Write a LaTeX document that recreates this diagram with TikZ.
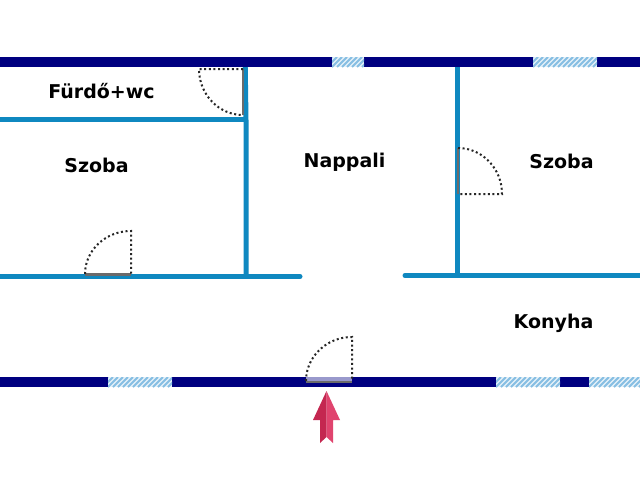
\documentclass[tikz,border=0pt]{standalone}
\usepackage{fontspec}
\setmainfont{DejaVu Sans}
\definecolor{navywall}{HTML}{000080}
\definecolor{bluewall}{HTML}{0F88C0}
\definecolor{hatchbg}{HTML}{E4F1F8}
\definecolor{hatchln}{HTML}{86BEE3}
\definecolor{doorln}{HTML}{6B6B6B}
\newcommand{\winhatch}[2]{%
  \begin{scope}
    \fill[hatchbg] (#1,57) rectangle (#2,67);
    \clip (#1,57) rectangle (#2,67);
    \pgfmathsetmacro{\xb}{#1-10}
    \pgfmathsetmacro{\xc}{#1-5}
    \foreach \q in {\xb,\xc,...,#2}{\draw[hatchln,line width=1.9pt] (\q,67) -- (\q+10,57);}
  \end{scope}}
\tikzset{
  x=1pt,y=-1pt,
  wall/.style={bluewall,line width=5pt},
  wallr/.style={bluewall,line width=5pt,line cap=round},
  outer/.style={fill=navywall},
  leaf/.style={doorln,line width=2.2pt},
  swing/.style={black!85,line width=2pt,dash pattern=on 2pt off 2.6pt},
  room/.style={font=\bfseries\fontsize{19}{22}\selectfont,text=black,inner sep=0pt}
}
\begin{document}
\begin{tikzpicture}
\useasboundingbox (0,0) rectangle (640,480);
\fill[white] (0,0) rectangle (640,480);
% inner walls
\draw[wall] (245.2,64) -- (246,120) -- (246,276);
\draw[wall] (0,119.5) -- (246,119.5);
\draw[wallr] (0,276.5) -- (300,276.5);
\draw[wall] (457,64) -- (457,276);
\draw[wallr] (405,275.5) -- (640,275.5);
% outer walls
\fill[outer] (0,57) rectangle (640,67);
\fill[outer] (0,377) rectangle (640,387);
% windows
\winhatch{332}{364}
\winhatch{533}{597}
\begin{scope}[yshift=-320pt]
\winhatch{108}{172}
\winhatch{496}{560}
\winhatch{589}{640}
\end{scope}
% doors
\draw[leaf] (243,69) -- (243,115);
\draw[swing] (243,69) -- (199,69) arc[start angle=180,end angle=270,x radius=44,y radius=-46];
\draw[leaf] (85,274.5) -- (131,274.5);
\draw[swing] (85,274) arc[start angle=180,end angle=90,x radius=46,y radius=-43] -- (131,274);
\draw[leaf] (458,148) -- (458,194);
\draw[swing] (458,148) arc[start angle=90,end angle=0,x radius=44,y radius=-46] -- (458,194);
\fill[fill=lightgray!80!blue] (306,377) rectangle (352,381.5);
\draw[leaf] (306,382) -- (352,382);
\draw[swing] (306,381) arc[start angle=180,end angle=90,x radius=46,y radius=-44] -- (352,381);
% entrance arrow
\fill[fill={rgb,255:red,196;green,39;blue,80}] (326.5,391) -- (313,420) -- (320,420) -- (320,443) -- (326.5,437) -- cycle;
\fill[fill={rgb,255:red,224;green,68;blue,110}] (326.5,391) -- (340,420) -- (333,420) -- (333,443) -- (326.5,437) -- cycle;
% labels
\node[room] (furdo) at (101.5,91) {Fürdő+wc};
\node[room] (szoba1) at (96.5,165.5) {Szoba};
\node[room] (nappali) at (344.5,162.5) {Nappali};
\node[room] (szoba2) at (561.5,161) {Szoba};
\node[room] (konyha) at (553.5,323.5) {Konyha};
\end{tikzpicture}
\end{document}
